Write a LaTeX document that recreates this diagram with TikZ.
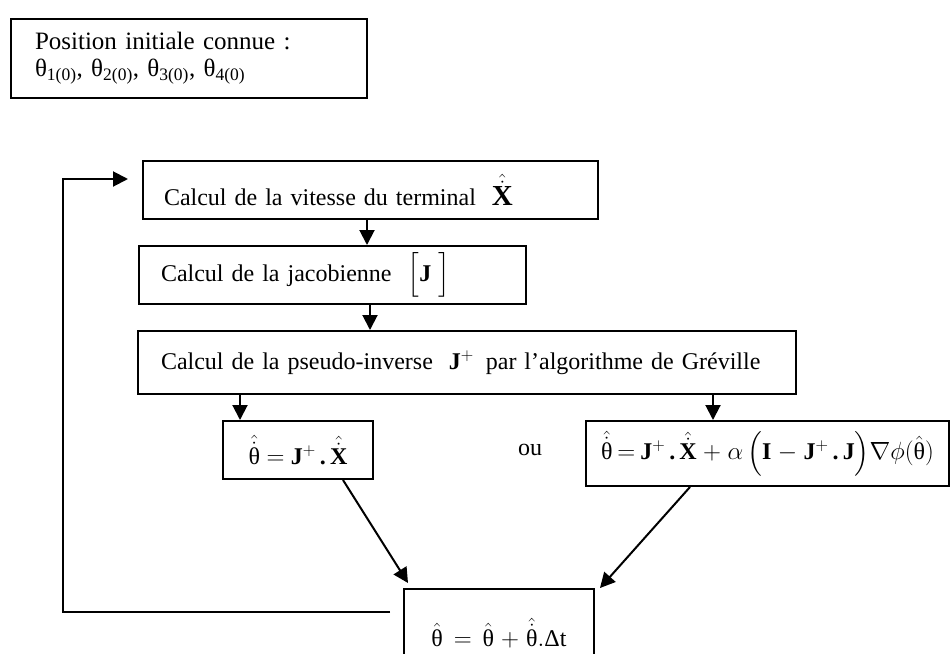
\documentclass[tikz,border=0pt]{standalone}
\usepackage{amsmath}
\usepackage{fontspec}
\setmainfont{Liberation Serif}
\usetikzlibrary{arrows.meta}
% upright theta and bold vectors set in the text font
\newcommand{\thv}{\text{θ}}
\newcommand{\Jb}{\text{\bfseries J}}
\newcommand{\Xb}{\text{\bfseries X}}
\newcommand{\Ib}{\text{\bfseries I}}
\newcommand{\bdot}{\,\text{\bfseries .}\,}
\newcommand{\eqs}{\mathrel{\!=\!}}
\begin{document}
\begin{tikzpicture}[x=1pt,y=-1pt,
  box/.style={draw, line width=2pt, rectangle, anchor=north west,
    inner ysep=0pt, align=left},
  arr/.style={line width=2pt, -{Triangle[length=15pt,width=15pt]}},
  font=\fontsize{24}{30}\selectfont]
\useasboundingbox (0,0) rectangle (950,653);

% starting configuration
\node[box, minimum width=356pt, minimum height=79pt, inner xsep=24pt,
      text width=308pt, font=\fontsize{25}{27}\selectfont] (b1) at (10,18)
  {Position initiale connue :\\
   θ\textsubscript{1(0)}, θ\textsubscript{2(0)}, θ\textsubscript{3(0)}, θ\textsubscript{4(0)}};

% iteration loop
\node[box, minimum width=455pt, minimum height=58pt, inner xsep=21pt,
      text width=413pt] (b2) at (142,160)
  {Calcul de la vitesse du terminal \ {\fontsize{29}{30}\selectfont$\hat{\dot{\Xb}}$}};

\node[box, minimum width=387pt, minimum height=58pt, inner xsep=22pt,
      text width=343pt] (b3) at (138,245)
  {Calcul de la jacobienne \ $\Big[\Jb\;\Big]$};

\node[box, minimum width=658pt, minimum height=63pt, inner xsep=23pt,
      text width=612pt] (b4) at (137,330)
  {Calcul de la pseudo-inverse \ $\Jb^{+}$\, par l’algorithme de Gréville};

\node[box, minimum width=150pt, minimum height=58pt, inner xsep=0pt,
      text width=150pt, align=center] (b5) at (222,420)
  {$\hat{\dot{\thv}}\eqs\Jb^{+}\bdot\hat{\dot{\Xb}}$};

\node (ou) at (530,450) {ou};

\node[box, minimum width=363pt, minimum height=65pt, inner xsep=0pt,
      text width=363pt, align=center] (b6) at (585,420)
  {$\hat{\dot{\thv}}\eqs\Jb^{+}\bdot\hat{\dot{\Xb}}+\alpha\,\Big(\Ib-\Jb^{+}\bdot\Jb\Big)\nabla\phi(\hat{\thv})$};

\node[box, minimum width=190pt, minimum height=88pt, inner xsep=0pt,
      text width=190pt, align=center] (b7) at (403,588)
  {$\hat{\thv}=\hat{\thv}+\hat{\dot{\thv}}.\text{Δt}$};
\draw[line width=2pt] (b7.south west) -- ++(0,30) (b7.south east) -- ++(0,30);

% connectors
\draw[arr] ([xshift=225pt]b2.south west) -- ([xshift=225pt]b2.south west |- b3.north);
\draw[arr] ([xshift=232pt]b3.south west) -- ([xshift=232pt]b3.south west |- b4.north);
\draw[arr] ([xshift=103pt]b4.south west) -- ([xshift=103pt]b4.south west |- b5.north);
\draw[arr] ([xshift=576pt]b4.south west) -- ([xshift=576pt]b4.south west |- b6.north);
\draw[arr] ([xshift=121pt]b5.south west) -- ([xshift=5pt,yshift=5pt]b7.north west);
\draw[arr] ([xshift=105pt]b6.south west) -- ([xshift=5pt]b7.north east);

% feedback to the first step of the loop
\coordinate (loopstart) at ([xshift=-13pt,yshift=-24pt]b7.north west);
\coordinate (loopend) at ([xshift=-14pt,yshift=-19pt]b2.north west);
\draw[arr] (loopstart) -| ([xshift=-65pt]loopend) -- (loopend);
\end{tikzpicture}
\end{document}
